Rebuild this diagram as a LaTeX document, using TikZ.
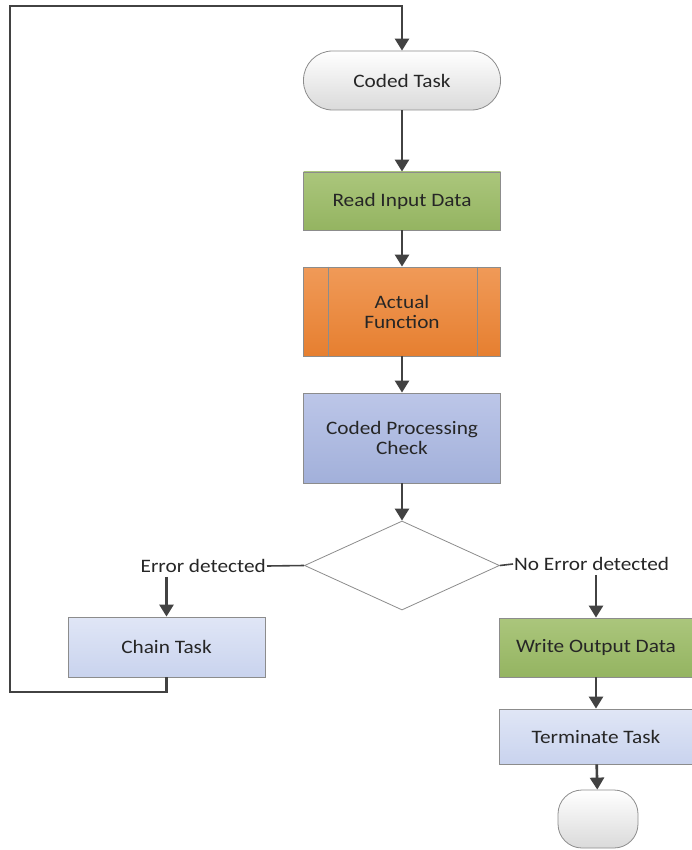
\documentclass[tikz,border=0pt]{standalone}
\usepackage{fontspec}
\setmainfont{Carlito}[FakeStretch=1.12]
\usetikzlibrary{arrows.meta,shapes.geometric}

\definecolor{txt}{HTML}{262626}
\definecolor{edge}{HTML}{8C8C8C}
\definecolor{wire}{HTML}{424242}
\definecolor{greyTop}{HTML}{FFFFFF}
\definecolor{greyBot}{HTML}{DADADA}
\definecolor{greenTop}{HTML}{ABC67C}
\definecolor{greenBot}{HTML}{94B461}
\definecolor{orangeTop}{HTML}{F09A58}
\definecolor{orangeBot}{HTML}{E67F30}
\definecolor{blueTop}{HTML}{BCC6E8}
\definecolor{blueBot}{HTML}{A2B0DA}
\definecolor{paleTop}{HTML}{E0E6F6}
\definecolor{paleBot}{HTML}{C9D3EE}

\begin{document}
\begin{tikzpicture}[x=1pt,y=-1pt,
  base/.style={draw=edge, line width=0.8pt, inner sep=2pt, align=center,
    text=txt, font=\fontsize{19}{20}\selectfont},
  procbox/.style={base, rectangle, minimum width=197pt},
  termbox/.style={base, rectangle, rounded corners=29pt, minimum width=197pt,
    minimum height=59pt, top color=greyTop, bottom color=greyBot},
  greenbox/.style={procbox, top color=greenTop, bottom color=greenBot},
  orangebox/.style={procbox, top color=orangeTop, bottom color=orangeBot},
  bluebox/.style={procbox, top color=blueTop, bottom color=blueBot},
  palebox/.style={procbox, top color=paleTop, bottom color=paleBot},
  decision/.style={draw=edge, line width=0.8pt, diamond, fill=white, inner sep=0pt,
    minimum width=195pt, minimum height=89pt},
  branchlabel/.style={inner xsep=1pt, inner ysep=4pt, text=txt,
    font=\fontsize{19}{20}\selectfont},
  flow/.style={draw=wire, line width=2.6pt, -{Triangle[width=14pt,length=12pt]}},
  plain/.style={draw=wire, line width=2.2pt}
]
\useasboundingbox (0,0) rectangle (692,850);

% main column
\node[termbox] (coded) at (402,80.5) {Coded Task};
\node[greenbox, minimum height=58pt] (read) at (402,201) {Read Input Data};
\node[orangebox, minimum height=89pt] (act) at (402,311.5) {Actual\\Function};
\draw[edge, line width=0.8pt]
  ([xshift=25pt]act.north west) -- ([xshift=25pt]act.south west)
  ([xshift=-24pt]act.north east) -- ([xshift=-24pt]act.south east);
\node[bluebox, minimum height=90pt] (check) at (402,438) {Coded Processing\\Check};
\node[decision] (dec) at (402,565.5) {};

% error branch
\node[branchlabel, anchor=east] (errlbl) at (267,566) {Error detected};
\node[palebox, minimum height=60pt] (chain) at (166.5,647) {Chain Task};

% success branch
\node[branchlabel, anchor=west] (oklbl) at (513,564) {No Error detected};
\node[greenbox, minimum width=194pt, minimum height=59pt] (write) at (596,647.5) {Write Output Data};
\node[palebox, minimum width=194pt, minimum height=55pt] (term) at (596,736.5) {Terminate Task};
\node[base, rectangle, rounded corners=24pt, minimum width=80pt, minimum height=58pt,
  top color=greyTop, bottom color=greyBot] (end) at (598,819) {};

% connectors
\draw[flow] (coded) -- (read);
\draw[flow] (read) -- (act);
\draw[flow] (act) -- (check);
\draw[flow] (check) -- (dec);
\draw[plain, line width=1.6pt] (dec.west) -- (errlbl.east);
\draw[plain, line width=1.6pt] (dec.east) -- (oklbl.west);
\draw[flow] (errlbl.south -| chain.north) -- (chain.north);
\draw[flow] (oklbl.south -| write.north) -- (write.north);
\draw[flow] (write) -- (term);
\draw[flow] (term) -- (end);

% loop back from the chain task to the coded task
\coordinate (loopbottom) at (10,692);
\coordinate (looptop) at (10,6);
\draw[flow, rounded corners=0pt] (chain.south) |- (loopbottom) -- (looptop) -| (coded.north);
\end{tikzpicture}
\end{document}
